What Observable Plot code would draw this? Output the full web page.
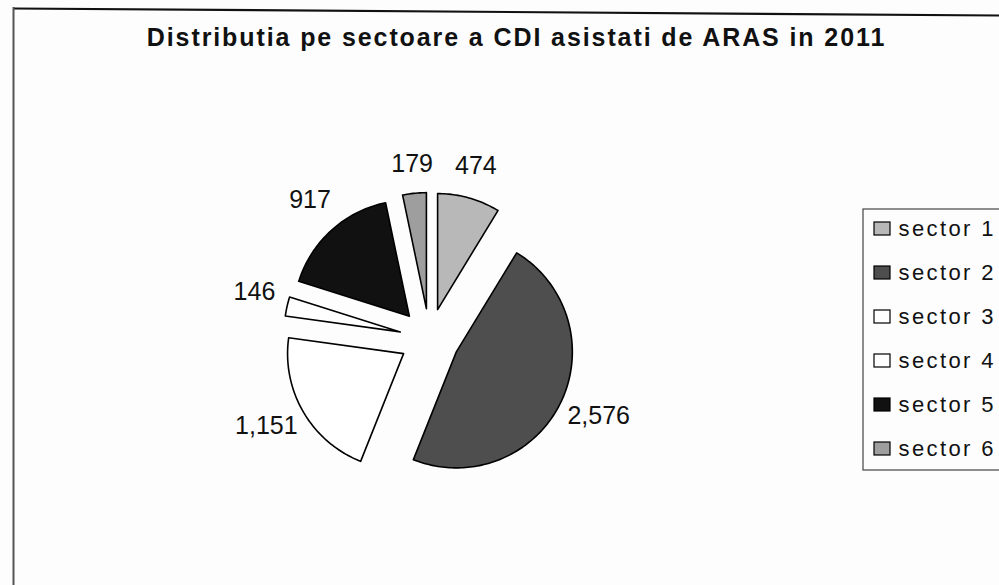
<!DOCTYPE html>
<html>
<head>
<meta charset="utf-8">
<script src="https://cdn.jsdelivr.net/npm/d3@7"></script>
<script src="https://cdn.jsdelivr.net/npm/@observablehq/plot@0.6"></script>
<style>
  html, body { margin: 0; padding: 0; background: #fdfdfd; overflow: hidden; }
  #chart { width: 999px; height: 585px; }
</style>
</head>
<body>
<div id="chart"></div>
<script>
// ---- data ----
const categories = ["sector 1", "sector 2", "sector 3", "sector 4", "sector 5", "sector 6"];
const values = [474, 2576, 1151, 146, 917, 179];
const valueLabels = ["474", "2,576", "1,151", "146", "917", "179"];
const titleText = "Distributia pe sectoare a CDI asistati de ARAS in 2011";

// ---- styles / layout ----
const sliceColors = ["#b8b8b8", "#4e4e4e", "#ffffff", "#ffffff", "#111111", "#9e9e9e"];
const W = 999, H = 585;
const center = {x: 429, y: 338};
const radius = 116, explode = 30, labelGap = 157, labelLift = 7;
const labelSize = 25;
const font = "Liberation Sans, Arial, sans-serif";

// ---- geometry from values (d3.pie) ----
const arcs = d3.pie().sort(null).value(d => d)(values);
const slicePts = [];
const labelData = [];
arcs.forEach((a, i) => {
  const mid = (a.startAngle + a.endAngle) / 2;
  const dx = Math.sin(mid), dy = -Math.cos(mid);
  const tx = center.x + explode * dx, ty = center.y + explode * dy;
  slicePts.push({sector: categories[i], x: tx, y: ty});
  const n = Math.max(4, Math.ceil((a.endAngle - a.startAngle) / 0.02));
  for (let k = 0; k <= n; k++) {
    const t = a.startAngle + (a.endAngle - a.startAngle) * k / n;
    slicePts.push({sector: categories[i], x: tx + radius * Math.sin(t), y: ty - radius * Math.cos(t)});
  }
  const txt = valueLabels[i];
  let em = 0;
  for (const ch of txt) em += (ch === "," ? 0.278 : 0.556);
  const w = em * labelSize, h = labelSize * 0.75;
  const R = labelGap + Math.abs(dx) * w / 2 + Math.abs(dy) * h / 2;
  labelData.push({text: txt, x: center.x + R * dx, y: center.y + R * dy - labelLift});
});

// legend layout
const legX = 874, legY0 = 228.5, legStep = 44, swW = 16, swH = 13;
const legend = categories.map((c, i) => ({
  sector: c,
  x1: legX, x2: legX + swW,
  y1: legY0 + i * legStep - swH / 2, y2: legY0 + i * legStep + swH / 2,
  tx: 898, ty: legY0 + i * legStep
}));

const chart = Plot.plot({
  width: W, height: H,
  margin: 0,
  x: {domain: [0, W], range: [0, W], axis: null},
  y: {domain: [0, H], range: [0, H], axis: null},
  color: {type: "ordinal", domain: categories, range: sliceColors},
  style: {background: "#fdfdfd", fontFamily: font, overflow: "hidden"},
  marks: [
    // outer frame
    Plot.link([0], {x1: 13, y1: 8, x2: W, y2: 15, stroke: "#111", strokeWidth: 2.2}),
    Plot.ruleX([13], {y1: 7, y2: H, stroke: "#555", strokeWidth: 2}),
    // title
    Plot.text([titleText], {x: 516, y: 37, text: d => d, fontSize: 25, fontWeight: "bold", fill: "#111"}),
    // slices
    Plot.line(slicePts, {x: "x", y: "y", z: "sector", fill: "sector", stroke: "#000", strokeWidth: 1.6, curve: "linear-closed"}),
    // value labels
    Plot.text(labelData, {x: "x", y: "y", text: "text", fontSize: labelSize, fill: "#111"}),
    // legend box
    Plot.rect([0], {x1: 863, x2: 1010, y1: 209, y2: 470, fill: "none", stroke: "#444", strokeWidth: 1.2}),
    Plot.rect(legend, {x1: "x1", x2: "x2", y1: "y1", y2: "y2", fill: "sector", stroke: "#000", strokeWidth: 1.2}),
    Plot.text(legend, {x: "tx", y: "ty", text: "sector", textAnchor: "start", fontSize: 22, fill: "#111"})
  ]
});
chart.querySelectorAll("text").forEach(t => {
  const s = t.textContent;
  if (s === titleText) t.setAttribute("letter-spacing", "1.9");
  else if (categories.includes(s)) t.setAttribute("letter-spacing", "2.4");
});
document.getElementById("chart").appendChild(chart);
</script>
</body>
</html>
